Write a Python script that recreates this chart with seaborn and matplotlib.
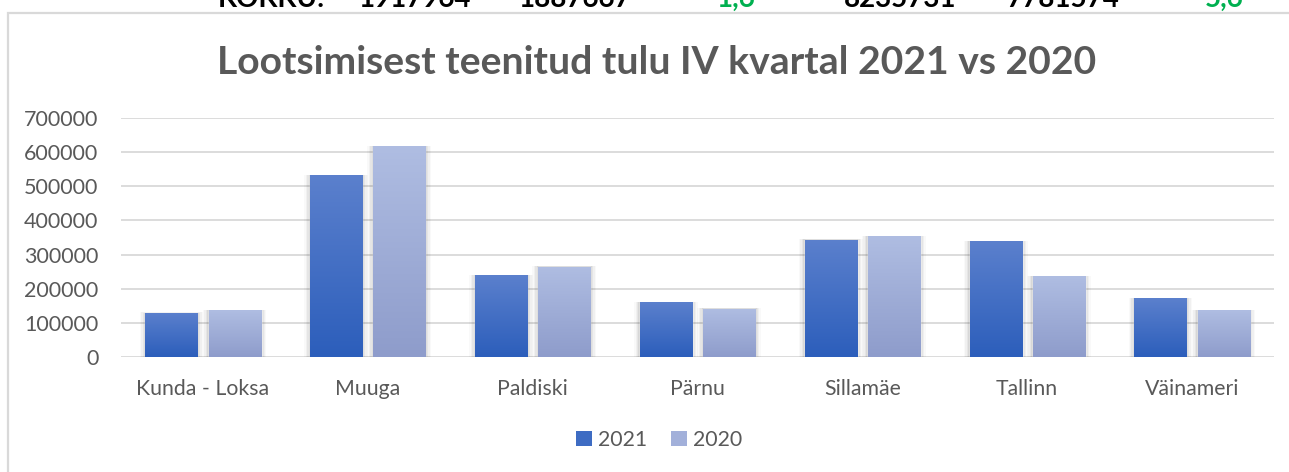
import numpy as np
import pandas as pd
import matplotlib
matplotlib.use("Agg")
import matplotlib.pyplot as plt
import matplotlib.colors as mcolors
from matplotlib.patches import Rectangle
import seaborn as sns

# ---- data ----
ports = ["Kunda - Loksa", "Muuga", "Paldiski", "Pärnu", "Sillamäe", "Tallinn", "Väinameri"]
values_2021 = [129000, 532000, 239000, 160000, 344000, 339000, 172000]
values_2020 = [137000, 617000, 265000, 142000, 353000, 236000, 137000]
series = ["2021", "2020"]
yticks = [0, 100000, 200000, 300000, 400000, 500000, 600000, 700000]
title = "Lootsimisest teenitud tulu IV kvartal 2021 vs 2020"
top_row = ["KOKKU:", "1917964", "1887667", "1,6", "8235731", "7781574", "5,6"]
top_row_green = [False, False, False, True, False, False, True]

df = pd.DataFrame({
    "port": ports * 2,
    "year": [series[0]] * len(ports) + [series[1]] * len(ports),
    "value": values_2021 + values_2020,
})

sns.set_theme(style="white")
plt.rcParams["font.family"] = ["Lato", "DejaVu Sans"]

W, H = 1289, 472
fig = plt.figure(figsize=(W / 100, H / 100), dpi=100)
ax = fig.add_axes([120.6 / W, 1 - 357 / H, (1274.4 - 120.6) / W, (357 - 118) / H])

grad = {"2021": ("#5b80cd", "#2c5ebb"), "2020": ("#afbde2", "#8e9ccb")}
mid = {"2021": "#4470c4", "2020": "#a2b0da"}

sns.barplot(data=df, x="port", y="value", hue="year", hue_order=series,
            order=ports, palette=mid, width=0.765, gap=0.175,
            ax=ax, legend=False, saturation=1, zorder=3)

ax.set_ylim(0, 700000)
ax.set_xlim(-0.5, len(ports) - 0.5)
ax.set_yticks(yticks)
ax.set_yticklabels([str(t) for t in yticks])
ax.yaxis.grid(True, color="#d9d9d9", linewidth=1.3, zorder=0)
ax.xaxis.grid(False)
for s in ax.spines.values():
    s.set_visible(False)
ax.set_xlabel("")
ax.set_ylabel("")
ax.tick_params(axis="y", length=0, pad=16, labelsize=15.5, labelcolor="#595959")
ax.tick_params(axis="x", length=0, pad=15.5, labelsize=15.3, labelcolor="#595959")

# gradient fills + soft shadow
patches = list(ax.patches)
n = len(ports)
for i, p in enumerate(patches):
    yr = series[i // n]
    x0, y0 = p.get_x(), p.get_y()
    w, h = p.get_width(), p.get_height()
    if h <= 0:
        continue
    for k, a in [(4, 0.025), (3, 0.035), (2, 0.045), (1, 0.06)]:
        dx = 0.009 * k
        dy = 1700 * k
        sh = Rectangle((x0 - dx, y0 - dy * 0.7), w + 2 * dx, h + dy,
                       facecolor="#000000", alpha=a, edgecolor="none", zorder=2)
        ax.add_patch(sh)
    top_c, bot_c = grad[yr]
    cmap = mcolors.LinearSegmentedColormap.from_list("g", [bot_c, top_c])
    g = np.linspace(0, 1, 256).reshape(-1, 1)
    im = ax.imshow(g, cmap=cmap, aspect="auto", origin="lower",
                   extent=[x0, x0 + w, y0, y0 + h], zorder=4, interpolation="bilinear")
    im.set_clip_path(p)
    p.set_facecolor("none")
ax.set_xlim(-0.5, len(ports) - 0.5)
ax.set_ylim(0, 700000)

# title
fig.text(657 / W, 1 - 74 / H, title, ha="center", va="baseline",
         fontsize=28.2, fontweight="bold", color="#595959")

# legend
handles = [Rectangle((0, 0), 1, 1, facecolor=mid[s], edgecolor="none") for s in series]
handles[0].set_facecolor("#3e6cc3")
fig.legend(handles, series, loc="center", bbox_to_anchor=(659 / W, 1 - 440 / H),
           ncol=2, frameon=False, fontsize=15.3, handlelength=0.75, handleheight=0.75,
           handletextpad=0.3, columnspacing=1.1, labelcolor="#595959")

# chart frame (extends beyond the image to right and bottom)
frame = Rectangle((7.5 / W, -0.1), 1.2, 1 - 12.5 / H + 0.1, transform=fig.transFigure,
                  facecolor="none", edgecolor="#d9d9d9", linewidth=1.6, zorder=0)
fig.patches.append(frame)

# cut-off spreadsheet row above the chart (cropped in the reference too)
xs = [271, 414, 574, 736, 900, 1063, 1224]
for txt, x, gr in zip(top_row, xs, top_row_green):
    fig.text(x / W, 1 - 7 / H, txt, ha="center", va="baseline", fontsize=20,
             fontweight="bold", color="#00b050" if gr else "#000000")

fig.savefig("out.png", dpi=100)
